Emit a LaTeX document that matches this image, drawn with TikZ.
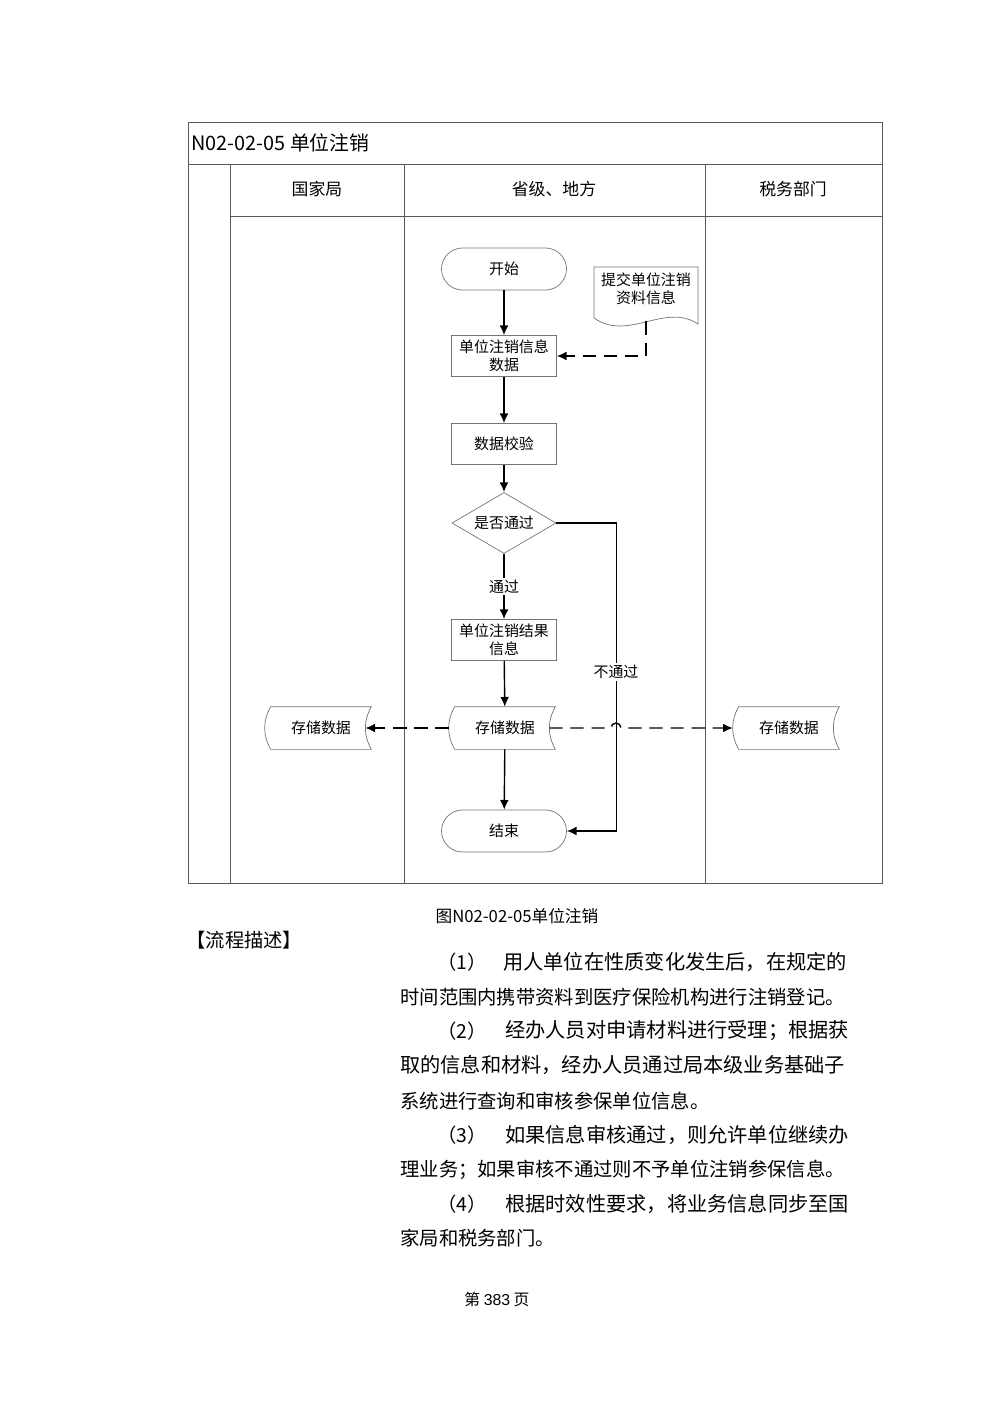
\documentclass[tikz,border=0pt]{standalone}
\usepackage{fontspec}
\setmainfont{Noto Sans CJK SC}
\newfontfamily\numfont{Liberation Sans}
\usetikzlibrary{shapes.geometric,arrows.meta}

\begin{document}
\begin{tikzpicture}[x=0.02cm,y=-0.02cm,
	every node/.style={black,inner sep=0pt},
	lane/.style={draw=black!65,line width=0.5pt},
	shapeline/.style={draw=black!55,line width=0.4pt},
	proc/.style={shapeline,minimum width=2.1cm,minimum height=0.82cm,align=center,font=\fontsize{8.5}{10.2}\selectfont},
	term/.style={proc,minimum width=2.5cm,minimum height=0.84cm,rounded corners=0.42cm},
	decide/.style={proc,diamond,aspect=1.7,minimum width=2.08cm,minimum height=1.22cm},
	store/.style={minimum width=2.0cm,minimum height=0.84cm,font=\fontsize{8.5}{10.2}\selectfont},
	lbl/.style={fill=white,inner sep=1pt,font=\fontsize{8.5}{10.2}\selectfont},
	flow/.style={-{Latex[length=5.5pt,width=5pt]},line width=0.8pt},
	dflow/.style={flow,dash pattern=on 7.5pt off 4.5pt},
	hdr/.style={font=\fontsize{9.6}{11}\selectfont},
	para/.style={anchor=west,font=\fontsize{11}{13}\selectfont},
	widepara/.style={para,font=\fontsize{11.5}{13}\selectfont}]
	\useasboundingbox (0,0) rectangle (1000,1415);

	% swimlane table
	\draw[lane] (188,122) rectangle (882,883);
	\draw[lane] (188,164) -- (882,164);
	\draw[lane] (230,164) -- (230,883);
	\draw[lane] (404,164) -- (404,883);
	\draw[lane] (705,164) -- (705,883);
	\draw[lane] (230,216) -- (882,216);

	\node[anchor=west,font=\fontsize{11.3}{13}\selectfont] (title) at (191,143) {N02-02-05 单位注销};
	\node[hdr] (nat) at (317,189) {国家局};
	\node[hdr] (prov) at (554,189) {省级、地方};
	\node[hdr] (tax) at (793,189) {税务部门};

	% flow nodes
	\node[term] (start) at (504,269) {开始};
	\node[proc] (info) at (504,356) {单位注销信息\\数据};
	\node[proc] (check) at (504,444) {数据校验};
	\node[decide] (pass) at (504,523) {是否通过};
	\node[proc] (result) at (504,640) {单位注销结果\\信息};
	\node[store] (smid) at (505,728) {存储数据};
	\node[store] (sleft) at (321,728) {存储数据};
	\node[store] (sright) at (789,728) {存储数据};
	\node[term] (end) at (504,831) {结束};

	% document
	\draw[shapeline] (594,318) -- (594,267) -- (698,267) -- (698,324)
		.. controls (665,302) and (628,342) .. (594,318);
	\node[align=center,font=\fontsize{8.5}{10.2}\selectfont] (doc) at (646,289) {提交单位注销\\资料信息};
	\coordinate (docb) at (646,321.5);

	% stored data
	\foreach \s in {sleft,smid,sright}
		\draw[shapeline] (\s.north west) -- (\s.north east)
			.. controls +(-8,14) and +(-8,-14) .. (\s.south east) -- (\s.south west)
			.. controls +(-8,-14) and +(-8,14) .. (\s.north west);

	% connectors
	\draw[flow] (start) -- (info);
	\draw[flow] (info) -- (check);
	\draw[flow] (check) -- (pass);
	\draw[flow] (pass) -- node[lbl] (ok) {通过} (result);
	\draw[flow] (result) -- (smid);
	\draw[flow] (smid) -- (end);
	\draw[flow] (pass.east) -- ++(60,0) |- (end.east);
	\node[lbl] (nopass) at (616,672) {不通过};
	\draw[dflow] (docb) |- (info.east);
	\draw[dflow] ([xshift=-0.12cm]smid.west) -- ([xshift=-0.12cm]sleft.east);
	\draw[dflow] ([xshift=-0.12cm]smid.east) -- (611,728) arc[start angle=180,end angle=0,radius=0.1cm]
		-- ([xshift=-0.12cm]sright.west);

	% text below
	\node[font=\fontsize{9.5}{11}\selectfont] (cap) at (517,916) {图N02-02-05单位注销};
	\node[anchor=west,font=\fontsize{11}{12}\selectfont] (desc) at (186,940) {【流程描述】};

	\node[para] (n1) at (437,962) {（1）};
	\node[widepara] (p1) at (503,962) {用人单位在性质变化发生后，在规定的};
	\node[para] (p2) at (400,997) {时间范围内携带资料到医疗保险机构进行注销登记。};
	\node[para] (n2) at (437,1031) {（2）};
	\node[widepara] (p3) at (505,1031) {经办人员对申请材料进行受理；根据获};
	\node[widepara] (p4) at (400,1065) {取的信息和材料，经办人员通过局本级业务基础子};
	\node[para] (p5) at (400,1101) {系统进行查询和审核参保单位信息。};
	\node[para] (n3) at (437,1135) {（3）};
	\node[widepara] (p6) at (505,1135) {如果信息审核通过，则允许单位继续办};
	\node[para] (p7) at (400,1170) {理业务；如果审核不通过则不予单位注销参保信息。};
	\node[para] (n4) at (437,1204) {（4）};
	\node[widepara] (p8) at (505,1204) {根据时效性要求，将业务信息同步至国};
	\node[para] (p9) at (400,1238) {家局和税务部门。};

	\node[font=\fontsize{9}{11}\selectfont] (page) at (497,1299) {第\ {\numfont 383}\ 页};
\end{tikzpicture}
\end{document}
